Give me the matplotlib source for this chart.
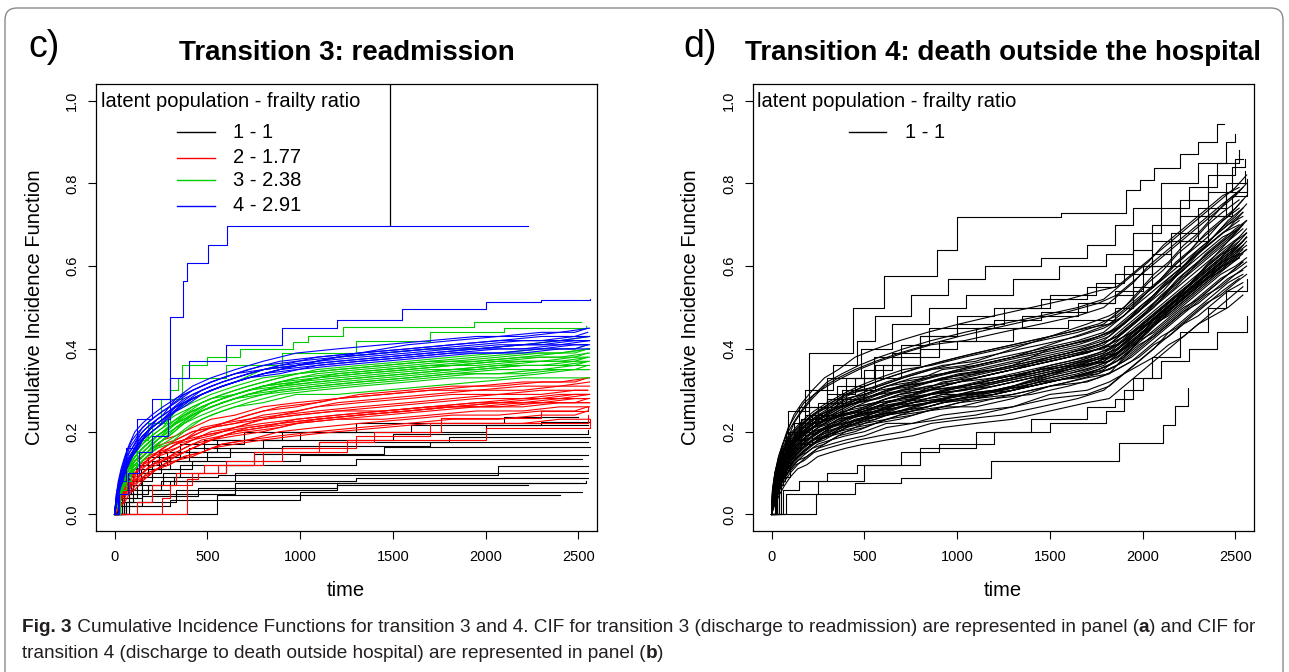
import matplotlib
matplotlib.use("Agg")
import matplotlib.pyplot as plt
from matplotlib.patches import FancyBboxPatch
from matplotlib.transforms import IdentityTransform

W, H = 1289, 672
plt.rcParams['font.family'] = ['Liberation Sans', 'DejaVu Sans']

# ---------------- panel c: transition 3 (readmission) ----------------
# time grids; each row = CIF (in hundredths) read at those times.
# these curves have many small jumps, so they are drawn as plain polylines
TC_A = [0, 10, 20, 35, 55, 80, 110, 150, 200, 260, 330, 420, 520, 650, 800, 980, 1200, 1450, 1700, 1950, 2200, 2400, 2560]
TC_B = [0, 15, 28, 45, 65, 95, 130, 175, 230, 295, 375, 470, 580, 720, 890, 1090, 1320, 1580, 1820, 2070, 2300, 2480, 2550]

red_a = [
    [0, 2, 2, 4, 5, 6, 8, 9, 10, 12, 13, 14, 16, 17, 18, 19, 20, 21, 22, 22, 22, 23, 23],
    [0, 2, 3, 4, 6, 7, 9, 10, 12, 13, 14, 16, 18, 19, 20, 22, 23, 23, 24, 25, 25, 26, 26],
    [0, 2, 3, 5, 7, 8, 10, 12, 13, 15, 16, 18, 20, 21, 23, 24, 25, 26, 27, 28, 28, 29, 29],
    [0, 2, 3, 6, 7, 9, 11, 13, 14, 16, 18, 20, 21, 23, 25, 26, 28, 29, 30, 30, 31, 31, 32],
    [0, 3, 5, 7, 9, 11, 13, 14, 16, 17, 18, 20, 21, 22, 23, 24, 25, 25, 26, 26, 27, 27, 27],
    [0, 1, 1, 2, 3, 5, 6, 8, 10, 12, 14, 16, 18, 20, 21, 23, 24, 25, 26, 27, 28, 28, 29],
    [0, 1, 2, 4, 6, 8, 10, 11, 13, 15, 17, 19, 21, 22, 24, 25, 27, 28, 29, 30, 30, 31, 31],
    [0, 2, 4, 5, 7, 9, 10, 12, 14, 15, 17, 18, 19, 21, 22, 23, 24, 25, 26, 27, 27, 28, 28],
    [0, 1, 3, 4, 5, 7, 8, 10, 12, 13, 15, 17, 18, 20, 21, 22, 23, 24, 25, 26, 26, 27, 27],
    [0, 3, 4, 6, 8, 10, 12, 14, 16, 18, 19, 21, 23, 24, 26, 27, 28, 29, 30, 31, 32, 32, 33],
]
red_b = [
    [0, 2, 3, 4, 6, 7, 8, 10, 11, 12, 14, 15, 17, 18, 19, 20, 21, 22, 23, 23, 24, 24, 25],
    [0, 2, 3, 5, 6, 8, 9, 11, 12, 14, 15, 17, 19, 20, 21, 23, 24, 25, 26, 26, 27, 27, 28],
    [0, 2, 3, 5, 7, 8, 11, 12, 14, 15, 17, 19, 20, 22, 24, 25, 26, 27, 28, 29, 29, 30, 30],
    [0, 2, 3, 6, 7, 9, 11, 13, 15, 17, 18, 21, 22, 24, 26, 27, 29, 30, 31, 31, 32, 32, 33],
    [0, 1, 2, 3, 5, 6, 8, 9, 11, 12, 14, 15, 17, 18, 20, 21, 22, 23, 24, 24, 25, 25, 26],
    [0, 2, 4, 6, 8, 10, 12, 13, 15, 17, 18, 20, 22, 23, 24, 26, 27, 28, 29, 29, 30, 30, 30],
    [0, 1, 3, 5, 6, 8, 9, 11, 13, 14, 16, 18, 19, 21, 22, 23, 24, 25, 26, 27, 28, 29, 29],
    [0, 3, 5, 7, 9, 10, 12, 14, 15, 16, 18, 19, 20, 21, 22, 23, 24, 25, 26, 27, 27, 28, 28],
]
red_steps = [
    [(0, 0), (390, .085), (450, .10), (560, .12), (800, .15), (1100, .175), (1400, .20), (1760, .233), (2300, .25), (2550, .26)],
    [(0, 0), (255, .04), (300, .07), (420, .10), (600, .13), (900, .16), (1300, .19), (1700, .22), (2550, .24)],
    [(0, 0), (120, .03), (200, .07), (330, .10), (480, .12), (750, .15), (1250, .18), (2000, .21), (2560, .23)],
]

green_a = [
    [0, 3, 4, 6, 8, 10, 11, 13, 15, 17, 19, 22, 24, 26, 27, 29, 29, 30, 31, 32, 33, 33, 33],
    [0, 3, 5, 7, 9, 11, 12, 14, 16, 18, 21, 24, 26, 28, 30, 31, 32, 33, 34, 35, 36, 36, 36],
    [0, 3, 5, 7, 9, 11, 14, 16, 18, 20, 23, 26, 28, 30, 32, 34, 35, 36, 37, 37, 38, 39, 40],
    [0, 3, 6, 8, 10, 12, 15, 17, 19, 21, 25, 28, 30, 32, 35, 36, 38, 39, 40, 40, 41, 42, 43],
    [0, 4, 7, 10, 12, 14, 16, 18, 20, 22, 24, 26, 28, 29, 31, 32, 33, 34, 35, 35, 36, 36, 37],
    [0, 2, 3, 5, 7, 9, 11, 13, 15, 18, 21, 24, 27, 29, 31, 33, 34, 35, 36, 37, 38, 38, 39],
    [0, 3, 5, 8, 10, 12, 14, 16, 18, 20, 22, 24, 26, 28, 29, 30, 31, 32, 33, 34, 34, 35, 35],
    [0, 4, 6, 9, 11, 13, 15, 17, 20, 22, 25, 27, 29, 31, 33, 34, 35, 36, 37, 38, 39, 39, 40],
    [0, 2, 4, 6, 8, 10, 13, 15, 17, 19, 22, 25, 27, 29, 31, 32, 34, 35, 36, 36, 37, 37, 38],
]
green_b = [
    [0, 3, 5, 6, 8, 10, 12, 14, 16, 17, 20, 23, 25, 27, 29, 30, 31, 32, 33, 33, 34, 35, 35],
    [0, 3, 5, 7, 9, 11, 13, 15, 17, 19, 22, 25, 27, 29, 31, 32, 33, 34, 35, 36, 37, 37, 38],
    [0, 3, 5, 8, 10, 12, 14, 16, 18, 21, 24, 27, 29, 31, 33, 35, 36, 37, 38, 39, 40, 40, 41],
    [0, 4, 6, 9, 12, 14, 16, 18, 20, 22, 24, 26, 28, 30, 31, 33, 34, 35, 36, 37, 37, 38, 38],
    [0, 2, 4, 6, 8, 10, 12, 14, 17, 19, 22, 24, 26, 28, 30, 31, 32, 33, 34, 34, 35, 35, 36],
    [0, 3, 6, 8, 10, 13, 15, 17, 19, 21, 23, 26, 28, 30, 32, 33, 34, 35, 36, 37, 38, 38, 39],
    [0, 4, 7, 9, 11, 13, 15, 17, 19, 21, 23, 25, 27, 29, 30, 31, 32, 33, 34, 35, 35, 36, 37],
    [0, 3, 5, 7, 10, 12, 14, 16, 19, 21, 24, 26, 28, 30, 32, 34, 35, 36, 37, 38, 39, 39, 40],
    [0, 2, 5, 7, 9, 11, 13, 15, 18, 20, 22, 25, 27, 29, 31, 32, 33, 34, 35, 36, 36, 37, 37],
]
green_steps = [
    [(0, 0), (20, .06), (60, .12), (120, .18), (180, .22), (250, .28), (366, .36), (500, .38), (674, .40), (960, .416), (1045, .43), (1233, .454), (1937, .466), (2515, .466)],
    [(0, 0), (30, .08), (90, .15), (200, .22), (300, .30), (340, .33), (600, .36), (900, .39), (1300, .42), (1700, .44), (2100, .45), (2540, .455)],
]

blue_a = [
    [0, 4, 6, 8, 11, 13, 15, 18, 20, 22, 25, 28, 30, 32, 34, 35, 36, 37, 38, 39, 39, 40, 40],
    [0, 4, 6, 8, 11, 14, 16, 19, 21, 23, 26, 29, 31, 33, 35, 36, 38, 39, 40, 40, 41, 41, 42],
    [0, 4, 6, 8, 12, 15, 17, 20, 22, 24, 28, 31, 33, 35, 37, 39, 40, 41, 42, 43, 43, 44, 45],
    [0, 5, 8, 11, 14, 17, 20, 22, 24, 26, 28, 30, 32, 34, 35, 36, 37, 38, 39, 40, 40, 41, 41],
    [0, 3, 5, 8, 10, 13, 16, 18, 21, 23, 26, 28, 30, 32, 34, 36, 37, 38, 39, 40, 41, 42, 42],
    [0, 5, 7, 10, 13, 16, 18, 21, 23, 25, 27, 30, 32, 34, 36, 37, 38, 39, 40, 41, 42, 42, 43],
]
blue_b = [
    [0, 4, 6, 8, 11, 14, 16, 20, 22, 24, 27, 30, 32, 34, 36, 38, 39, 40, 41, 42, 42, 43, 43],
    [0, 4, 7, 10, 13, 15, 18, 20, 22, 24, 27, 29, 31, 33, 35, 36, 37, 38, 39, 40, 40, 41, 41],
    [0, 3, 6, 9, 12, 15, 17, 20, 23, 25, 28, 30, 32, 34, 36, 37, 39, 40, 41, 42, 43, 43, 44],
    [0, 5, 8, 11, 14, 16, 19, 21, 23, 25, 27, 29, 31, 33, 34, 36, 37, 38, 39, 39, 40, 40, 41],
    [0, 4, 6, 9, 11, 14, 17, 19, 21, 24, 26, 29, 31, 33, 35, 37, 38, 39, 40, 41, 41, 42, 42],
    [0, 6, 9, 12, 15, 18, 20, 22, 24, 26, 29, 31, 33, 35, 37, 38, 39, 41, 42, 43, 44, 44, 45],
]
blue_steps = [
    [(0, 0), (20, .08), (60, .16), (120, .23), (200, .28), (300, .33), (400, .37), (600, .41), (900, .45), (1200, .47), (1550, .497), (2000, .513), (2300, .518), (2560, .52)],
    [(0, 0), (25, .05), (70, .10), (130, .15), (200, .19), (290, .23), (300, .477), (368, .564), (392, .607), (502, .652), (605, .697), (2230, .697)],
]

black_c = [
    [(0, 0), (550, .048), (2400, .048)],
    [(0, 0), (60, .02), (300, .035), (1000, .054), (2520, .054)],
    [(0, 0), (40, .03), (200, .05), (650, .077), (2500, .077)],
    [(0, 0), (30, .02), (150, .045), (450, .065), (1200, .077), (2540, .08)],
    [(0, 0), (50, .04), (150, .06), (300, .08), (1300, .089), (2550, .089)],
    [(0, 0), (20, .03), (100, .06), (250, .08), (650, .099), (2550, .099)],
    [(0, 0), (80, .05), (180, .07), (320, .09), (560, .095), (2064, .117), (2550, .117)],
    [(0, 0), (30, .04), (120, .07), (260, .10), (600, .12), (1300, .133), (2520, .133)],
    [(0, 0), (20, .05), (90, .08), (200, .11), (420, .13), (1000, .143), (2550, .143)],
    [(0, 0), (50, .05), (150, .09), (350, .12), (750, .145), (1450, .163), (2560, .163)],
    [(0, 0), (25, .06), (100, .10), (250, .13), (500, .15), (900, .165), (1700, .176), (2550, .176)],
    [(0, 0), (40, .07), (140, .11), (300, .14), (620, .16), (1100, .175), (1800, .187), (2560, .187)],
    [(0, 0), (15, .05), (80, .10), (200, .13), (400, .16), (800, .18), (1500, .195), (2550, .203)],
    [(0, 0), (30, .08), (120, .12), (280, .15), (550, .18), (1000, .20), (2000, .215), (2550, .215)],
    [(0, 0), (20, .06), (100, .11), (240, .15), (480, .18), (900, .20), (1600, .215), (2300, .223), (2560, .223)],
    [(0, 0), (10, .05), (70, .10), (180, .14), (350, .17), (700, .20), (1300, .22), (2100, .235), (2500, .235)],
    [(0, 0), (60, .03), (330, .06), (1200, .07), (2230, .07)],
]

# ---------------- panel d: transition 4 (death outside hospital) ----------------
TD_A = [0, 10, 25, 45, 70, 100, 140, 190, 250, 320, 400, 500, 620, 760, 920, 1100, 1300, 1500, 1700, 1820, 1900, 1980, 2060, 2140, 2220, 2300, 2380, 2460, 2540]
TD_B = [0, 15, 35, 55, 85, 120, 165, 220, 285, 360, 450, 560, 690, 840, 1010, 1200, 1400, 1600, 1760, 1860, 1940, 2020, 2100, 2180, 2260, 2340, 2420, 2500, 2560]
TD_C = [0, 5, 18, 38, 60, 90, 130, 175, 230, 300, 380, 470, 580, 710, 860, 1040, 1240, 1450, 1650, 1790, 1870, 1950, 2030, 2110, 2190, 2270, 2350, 2430, 2520]

death_a = [
    [0, 3, 6, 8, 10, 12, 14, 15, 17, 18, 19, 20, 22, 22, 24, 25, 26, 29, 30, 32, 34, 36, 38, 41, 43, 46, 48, 50, 53],
    [0, 3, 6, 9, 10, 13, 14, 16, 18, 19, 20, 21, 23, 24, 26, 26, 28, 31, 32, 34, 36, 38, 41, 43, 46, 48, 51, 54, 56],
    [0, 4, 6, 9, 11, 14, 15, 17, 19, 20, 22, 23, 24, 25, 27, 28, 30, 32, 34, 36, 38, 41, 43, 46, 49, 51, 54, 57, 59],
    [0, 4, 7, 10, 11, 14, 16, 18, 20, 21, 23, 24, 26, 27, 29, 29, 31, 34, 36, 38, 40, 43, 46, 48, 51, 54, 57, 60, 63],
    [0, 4, 7, 10, 12, 15, 17, 19, 21, 22, 24, 25, 27, 28, 30, 31, 33, 36, 38, 40, 42, 45, 48, 51, 54, 57, 60, 63, 66],
    [0, 4, 7, 11, 13, 16, 18, 20, 22, 23, 25, 26, 28, 29, 32, 33, 35, 38, 40, 42, 44, 47, 50, 54, 57, 60, 63, 66, 69],
    [0, 4, 8, 11, 13, 17, 19, 21, 23, 24, 26, 28, 30, 31, 33, 34, 36, 40, 42, 44, 46, 50, 53, 56, 59, 63, 66, 69, 73],
    [0, 5, 8, 12, 14, 17, 20, 22, 24, 25, 28, 29, 31, 32, 35, 36, 38, 41, 44, 46, 48, 52, 55, 59, 62, 66, 69, 72, 76],
    [0, 5, 8, 12, 14, 18, 20, 23, 25, 26, 29, 30, 32, 34, 36, 37, 40, 43, 46, 48, 50, 54, 58, 61, 65, 68, 72, 76, 79],
    [0, 6, 10, 13, 15, 17, 19, 20, 22, 23, 24, 25, 26, 27, 28, 29, 30, 32, 34, 35, 37, 40, 43, 46, 49, 52, 55, 58, 61],
    [0, 2, 4, 6, 8, 10, 12, 14, 16, 18, 20, 22, 24, 26, 28, 30, 32, 34, 37, 38, 40, 43, 46, 49, 52, 55, 58, 61, 64],
    [0, 5, 9, 13, 16, 19, 21, 23, 25, 27, 29, 31, 33, 35, 37, 39, 41, 43, 45, 46, 49, 52, 55, 58, 61, 64, 67, 70, 72],
    [0, 3, 5, 8, 10, 12, 14, 16, 18, 19, 21, 22, 23, 25, 26, 28, 29, 31, 33, 34, 38, 42, 46, 50, 54, 58, 62, 66, 70],
    [0, 4, 8, 11, 14, 16, 18, 20, 22, 24, 25, 27, 29, 30, 31, 33, 35, 37, 39, 41, 44, 47, 51, 54, 58, 61, 64, 67, 70],
    [0, 3, 7, 10, 13, 15, 17, 19, 20, 22, 23, 24, 25, 27, 28, 30, 32, 34, 36, 37, 39, 42, 44, 47, 50, 52, 55, 58, 61],
    [0, 5, 9, 12, 14, 16, 18, 21, 23, 25, 27, 28, 30, 32, 34, 35, 37, 39, 41, 43, 46, 49, 53, 56, 60, 63, 67, 71, 74],
    [0, 4, 6, 9, 11, 13, 15, 17, 19, 21, 23, 25, 27, 29, 31, 33, 35, 37, 39, 41, 43, 45, 47, 50, 53, 56, 59, 62, 65],
    [0, 2, 5, 8, 11, 14, 16, 18, 20, 21, 22, 23, 24, 25, 27, 28, 30, 33, 35, 37, 40, 43, 47, 50, 53, 56, 59, 62, 65],
    [0, 6, 9, 12, 14, 17, 20, 22, 24, 26, 28, 29, 31, 33, 34, 36, 38, 40, 42, 44, 47, 50, 53, 57, 60, 64, 67, 70, 73],
    [0, 3, 5, 7, 9, 11, 13, 14, 16, 17, 18, 19, 21, 22, 23, 24, 26, 28, 29, 31, 34, 37, 40, 44, 47, 50, 53, 56, 58],
    [0, 2, 3, 5, 7, 9, 11, 12, 14, 15, 16, 17, 18, 19, 21, 22, 23, 25, 27, 28, 31, 34, 37, 40, 43, 46, 49, 52, 55],
]
death_b = [
    [0, 4, 7, 10, 13, 15, 17, 19, 21, 23, 24, 26, 27, 29, 30, 32, 34, 36, 38, 40, 43, 46, 49, 52, 55, 58, 61, 64, 67],
    [0, 3, 6, 9, 11, 13, 15, 17, 18, 20, 21, 22, 24, 25, 27, 28, 30, 32, 34, 36, 38, 41, 44, 47, 50, 53, 55, 58, 60],
    [0, 5, 8, 12, 14, 17, 19, 21, 23, 25, 27, 28, 30, 32, 33, 35, 37, 39, 41, 43, 46, 49, 53, 56, 59, 63, 66, 69, 71],
    [0, 4, 7, 10, 12, 14, 16, 18, 20, 21, 23, 24, 26, 27, 29, 30, 32, 35, 37, 39, 41, 44, 47, 50, 53, 56, 59, 62, 64],
    [0, 6, 10, 13, 16, 18, 20, 22, 24, 26, 28, 30, 32, 33, 35, 37, 39, 41, 43, 45, 48, 51, 55, 58, 62, 65, 69, 72, 75],
    [0, 3, 5, 8, 10, 12, 14, 16, 17, 19, 20, 22, 23, 25, 26, 28, 29, 31, 33, 35, 37, 40, 43, 45, 48, 51, 53, 56, 58],
    [0, 4, 8, 11, 13, 16, 18, 20, 22, 24, 25, 27, 29, 30, 32, 33, 35, 37, 39, 41, 44, 47, 50, 53, 56, 60, 63, 66, 68],
    [0, 5, 9, 12, 15, 17, 19, 21, 23, 24, 26, 27, 29, 30, 31, 33, 34, 36, 38, 40, 43, 46, 49, 52, 55, 58, 61, 64, 67],
    [0, 3, 6, 9, 12, 14, 16, 18, 20, 22, 24, 26, 28, 30, 32, 34, 36, 38, 40, 41, 43, 46, 48, 51, 54, 57, 60, 63, 65],
    [0, 4, 7, 11, 14, 17, 19, 21, 22, 24, 25, 26, 28, 29, 31, 32, 34, 36, 38, 39, 42, 45, 49, 52, 56, 59, 62, 66, 69],
    [0, 5, 8, 11, 13, 15, 17, 19, 21, 22, 24, 25, 27, 28, 30, 31, 33, 35, 37, 39, 42, 45, 48, 51, 54, 57, 60, 63, 66],
    [0, 2, 5, 8, 10, 13, 15, 17, 19, 20, 22, 24, 25, 27, 28, 30, 31, 33, 35, 37, 40, 43, 46, 49, 52, 55, 58, 60, 62],
    [0, 6, 10, 14, 17, 20, 22, 24, 26, 28, 30, 32, 34, 36, 38, 40, 42, 44, 46, 48, 51, 54, 57, 61, 64, 68, 71, 74, 77],
    [0, 4, 7, 10, 12, 14, 16, 18, 19, 21, 22, 24, 25, 26, 28, 29, 31, 33, 35, 37, 40, 44, 47, 51, 54, 58, 61, 64, 67],
    [0, 3, 6, 10, 13, 16, 18, 20, 22, 24, 26, 27, 29, 31, 32, 34, 36, 38, 40, 42, 44, 47, 50, 53, 56, 59, 62, 65, 68],
    [0, 5, 9, 12, 14, 16, 18, 20, 21, 23, 24, 25, 26, 28, 29, 30, 32, 34, 36, 38, 41, 44, 47, 50, 53, 56, 59, 62, 64],
    [0, 4, 8, 12, 15, 18, 20, 22, 24, 26, 27, 29, 31, 32, 34, 35, 37, 39, 41, 43, 46, 49, 52, 55, 59, 62, 65, 68, 71],
    [0, 3, 5, 8, 11, 13, 15, 17, 19, 20, 22, 23, 25, 26, 28, 29, 31, 33, 34, 36, 39, 42, 45, 48, 51, 54, 57, 59, 61],
    [0, 6, 11, 15, 18, 22, 25, 28, 31, 33, 35, 37, 39, 41, 43, 45, 47, 49, 51, 53, 56, 59, 62, 65, 68, 71, 74, 77, 80],
    [0, 7, 12, 16, 20, 24, 27, 30, 33, 35, 38, 40, 42, 44, 46, 48, 50, 52, 54, 55, 58, 61, 64, 67, 70, 73, 76, 79, 82],
]
death_c = [
    [0, 3, 6, 9, 12, 14, 16, 18, 20, 21, 23, 24, 26, 27, 29, 30, 32, 34, 36, 38, 40, 43, 46, 49, 52, 55, 58, 61, 63],
    [0, 4, 8, 11, 13, 16, 18, 20, 22, 24, 26, 27, 29, 30, 32, 34, 35, 37, 39, 41, 44, 47, 50, 53, 57, 60, 63, 66, 69],
    [0, 2, 5, 8, 11, 13, 15, 17, 19, 21, 22, 24, 25, 27, 29, 30, 32, 34, 36, 37, 40, 43, 46, 49, 52, 55, 57, 60, 62],
    [0, 5, 9, 12, 15, 18, 20, 22, 24, 26, 28, 30, 31, 33, 35, 36, 38, 40, 42, 44, 47, 50, 54, 57, 61, 64, 67, 71, 74],
    [0, 3, 7, 10, 12, 15, 17, 19, 21, 22, 24, 25, 27, 28, 30, 31, 33, 35, 37, 39, 41, 44, 47, 50, 53, 56, 59, 62, 65],
    [0, 4, 7, 10, 13, 15, 18, 20, 22, 23, 25, 27, 28, 30, 31, 33, 35, 37, 39, 40, 43, 46, 49, 52, 55, 58, 61, 64, 67],
    [0, 3, 5, 7, 9, 11, 13, 15, 17, 19, 21, 23, 25, 27, 29, 31, 33, 35, 36, 38, 41, 44, 47, 50, 53, 56, 60, 63, 66],
    [0, 5, 8, 11, 14, 16, 18, 20, 21, 23, 24, 25, 27, 28, 29, 31, 33, 35, 37, 39, 42, 45, 48, 51, 54, 57, 60, 63, 65],
    [0, 4, 8, 12, 15, 17, 19, 21, 23, 25, 27, 29, 31, 33, 35, 37, 39, 41, 43, 45, 47, 50, 53, 56, 59, 62, 65, 68, 70],
    [0, 2, 4, 7, 9, 12, 14, 16, 18, 19, 21, 22, 24, 25, 27, 28, 30, 32, 33, 35, 38, 41, 44, 48, 51, 54, 57, 60, 63],
    [0, 6, 10, 13, 15, 17, 19, 21, 23, 24, 26, 28, 29, 31, 32, 34, 36, 38, 40, 42, 45, 48, 51, 55, 58, 62, 65, 68, 71],
    [0, 3, 6, 9, 11, 14, 16, 18, 19, 21, 22, 23, 25, 26, 27, 29, 30, 32, 34, 36, 39, 42, 45, 48, 51, 54, 57, 59, 62],
    [0, 4, 7, 11, 14, 16, 19, 21, 23, 25, 26, 28, 30, 31, 33, 35, 37, 39, 41, 43, 45, 48, 51, 54, 58, 61, 64, 67, 69],
    [0, 5, 9, 13, 16, 19, 21, 23, 25, 27, 29, 31, 33, 35, 36, 38, 40, 42, 44, 46, 49, 52, 56, 59, 63, 66, 70, 73, 76],
    [0, 3, 6, 8, 11, 13, 15, 17, 18, 20, 21, 23, 24, 26, 27, 29, 30, 33, 35, 37, 39, 43, 46, 49, 52, 55, 58, 60, 62],
    [0, 5, 10, 14, 17, 20, 23, 26, 29, 31, 33, 35, 37, 39, 41, 42, 44, 46, 48, 50, 53, 56, 60, 63, 66, 69, 72, 75, 78],
    [0, 6, 10, 14, 17, 21, 24, 27, 29, 32, 34, 36, 38, 40, 42, 44, 46, 48, 50, 52, 55, 58, 61, 65, 68, 71, 74, 77, 79],
    [0, 2, 4, 6, 8, 10, 12, 13, 15, 16, 17, 18, 19, 20, 22, 23, 24, 26, 28, 30, 33, 36, 39, 42, 45, 48, 51, 54, 57],
]
death_steps = [
    [(0, 0), (40, .12), (90, .25), (200, .389), (437, .50), (608, .577), (891, .638), (1000, .718), (1559, .729), (1911, .783), (1986, .809), (2060, .837), (2200, .87), (2300, .90), (2400, .944), (2440, .944)],
    [(0, 0), (30, .10), (80, .20), (180, .30), (330, .36), (460, .42), (560, .48), (750, .53), (950, .57), (1150, .60), (1450, .62), (1700, .65), (1850, .70), (1950, .74), (2100, .80), (2300, .85), (2450, .90), (2500, .92)],
    [(0, 0), (25, .08), (70, .18), (150, .26), (300, .33), (480, .40), (650, .46), (850, .50), (1050, .53), (1300, .57), (1550, .60), (1800, .63), (1950, .68), (2100, .74), (2250, .79), (2400, .85), (2520, .88)],
    [(0, 0), (30, .09), (100, .17), (220, .24), (380, .30), (560, .36), (800, .43), (1000, .46), (1250, .50), (1500, .53), (1750, .56), (1900, .60), (2050, .66), (2200, .72), (2350, .78), (2480, .84), (2550, .86)],
    [(0, 0), (20, .07), (60, .16), (160, .23), (300, .28), (500, .33), (700, .38), (900, .42), (1100, .45), (1350, .48), (1650, .51), (1850, .54), (2000, .60), (2150, .66), (2300, .72), (2450, .78), (2560, .81)],
    [(0, 0), (50, .15), (120, .22), (250, .27), (400, .33), (550, .38), (700, .41), (850, .45), (1000, .48), (1200, .50), (1450, .52), (1700, .55), (1850, .58), (1950, .64), (2050, .70), (2200, .76), (2350, .82), (2500, .86), (2540, .86)],
    [(0, 0), (40, .12), (100, .20), (200, .26), (350, .31), (500, .35), (650, .39), (800, .43), (1000, .45), (1200, .47), (1450, .49), (1700, .51), (1850, .53), (1950, .58), (2050, .63), (2150, .68), (2300, .74), (2450, .80), (2550, .83)],
    [(0, 0), (30, .10), (80, .18), (180, .24), (300, .29), (450, .33), (600, .36), (800, .40), (1000, .42), (1300, .45), (1600, .47), (1850, .50), (1950, .55), (2050, .60), (2200, .66), (2350, .72), (2480, .77), (2560, .79)],
    [(0, 0), (240, .05), (450, .075), (700, .087), (1180, .13), (1870, .173), (2110, .217), (2175, .262), (2245, .306)],
    [(0, 0), (60, .06), (150, .08), (300, .10), (460, .12), (700, .15), (900, .17), (1200, .20), (1500, .22), (1800, .25), (1900, .30), (2000, .33), (2100, .37), (2250, .40), (2400, .44), (2560, .48)],
    [(0, 0), (80, .05), (250, .08), (500, .12), (800, .16), (1100, .20), (1400, .23), (1700, .26), (1850, .28), (1950, .33), (2050, .38), (2200, .44), (2350, .50), (2450, .54), (2560, .57)],
]

xticks = [0, 500, 1000, 1500, 2000, 2500]
yticks = [0.0, 0.2, 0.4, 0.6, 0.8, 1.0]
ytick_labels = ['0.0', '0.2', '0.4', '0.6', '0.8', '1.0']
legend_c = ['1 - 1', '2 - 1.77', '3 - 2.38', '4 - 2.91']
legend_d = ['1 - 1']
RED, GREEN, BLUE, BLACK = '#ff0000', '#00cd00', '#0000ff', '#000000'
LW = 0.8


def fx(x):
    return x / W


def fy(y):
    return 1 - y / H


def draw_grid(ax, times, rows, color):
    for r in rows:
        ax.plot(times, [v / 100 for v in r], color=color, lw=LW)


def draw_steps(ax, curves, color):
    for c in curves:
        t = [p[0] for p in c]
        v = [p[1] for p in c]
        ax.plot(t, v, drawstyle='steps-post', color=color, lw=LW)


def setup(ax):
    ax.set_xlim(-100, 2600)
    ax.set_ylim(-0.04, 1.04)
    ax.set_xticks(xticks)
    ax.set_xticklabels([str(x) for x in xticks])
    ax.set_yticks(yticks)
    ax.set_yticklabels(ytick_labels, rotation=90, va='center')
    ax.tick_params(axis='both', direction='out', length=6, width=0.8, labelsize=10.5)
    ax.tick_params(axis='x', pad=8)
    ax.tick_params(axis='y', pad=6)
    for s in ax.spines.values():
        s.set_linewidth(0.9)


fig = plt.figure(figsize=(W / 100, H / 100), dpi=100)

ax_c = fig.add_axes([fx(96), fy(531), fx(501), 447 / H])
ax_d = fig.add_axes([fx(753), fy(531), fx(501), 447 / H])

draw_steps(ax_c, black_c, BLACK)
draw_grid(ax_c, TC_A, red_a, RED)
draw_grid(ax_c, TC_B, red_b, RED)
draw_steps(ax_c, red_steps, RED)
draw_grid(ax_c, TC_A, green_a, GREEN)
draw_grid(ax_c, TC_B, green_b, GREEN)
draw_steps(ax_c, green_steps, GREEN)
draw_grid(ax_c, TC_A, blue_a, BLUE)
draw_grid(ax_c, TC_B, blue_b, BLUE)
draw_steps(ax_c, blue_steps, BLUE)
setup(ax_c)

draw_grid(ax_d, TD_A, death_a, BLACK)
draw_grid(ax_d, TD_B, death_b, BLACK)
draw_grid(ax_d, TD_C, death_c, BLACK)
draw_steps(ax_d, death_steps, BLACK)
setup(ax_d)

# legends (drawn by hand, R style)
ax_c.text(-75, 0.998, 'latent population - frailty ratio', fontsize=14.5, va='center', ha='left')
for lab, col, yv in zip(legend_c, [BLACK, RED, GREEN, BLUE], [0.923, 0.862, 0.807, 0.746]):
    ax_c.plot([334, 539], [yv, yv], color=col, lw=1.0)
    ax_c.text(636, yv, lab, fontsize=14.5, va='center', ha='left')
ax_c.plot([1482, 1482], [0.70, 1.04], color=BLACK, lw=0.9)

ax_d.text(-81, 0.998, 'latent population - frailty ratio', fontsize=14.5, va='center', ha='left')
ax_d.plot([416, 616], [0.923, 0.923], color=BLACK, lw=1.0)
ax_d.text(718, 0.923, legend_d[0], fontsize=14.5, va='center', ha='left')

# titles and labels
fig.text(fx(28), fy(57), 'c)', fontsize=27, ha='left', va='baseline')
fig.text(fx(347), fy(60), 'Transition 3: readmission', fontsize=20, fontweight='bold', ha='center', va='baseline')
fig.text(fx(683), fy(57), 'd)', fontsize=27, ha='left', va='baseline')
fig.text(fx(1003), fy(60), 'Transition 4: death outside the hospital', fontsize=20, fontweight='bold', ha='center', va='baseline')

for cx, lx in [(346, 35), (1003, 691)]:
    fig.text(fx(cx), fy(590), 'time', fontsize=14.5, ha='center', va='center')
    fig.text(fx(lx), fy(307), 'Cumulative Incidence Function', fontsize=14.5, rotation=90, ha='center', va='center')

# caption, pieces placed one after another
cap_lines = [
    [('Fig. 3', 'bold'), (' Cumulative Incidence Functions for transition 3 and 4. CIF for transition 3 (discharge to readmission) are represented in panel (', 'normal'), ('a', 'bold'), (') and CIF for', 'normal')],
    [('transition 4 (discharge to death outside hospital) are represented in panel (', 'normal'), ('b', 'bold'), (')', 'normal')],
]
renderer = fig.canvas.get_renderer()
for line, base in zip(cap_lines, [632, 658]):
    x = 22
    for txt, wt in line:
        t = fig.text(fx(x), fy(base), txt, fontsize=13.7, fontweight=wt,
                     color='#231f20', ha='left', va='baseline')
        x = t.get_window_extent(renderer).x1

# rounded outer frame
frame = FancyBboxPatch((5, -40), 1278, H - 8 + 40, boxstyle='round,pad=0,rounding_size=12',
                       transform=IdentityTransform(), facecolor='none', edgecolor='#8a8a8a', lw=1.0)
fig.patches.append(frame)

fig.savefig('out.png', dpi=100)
